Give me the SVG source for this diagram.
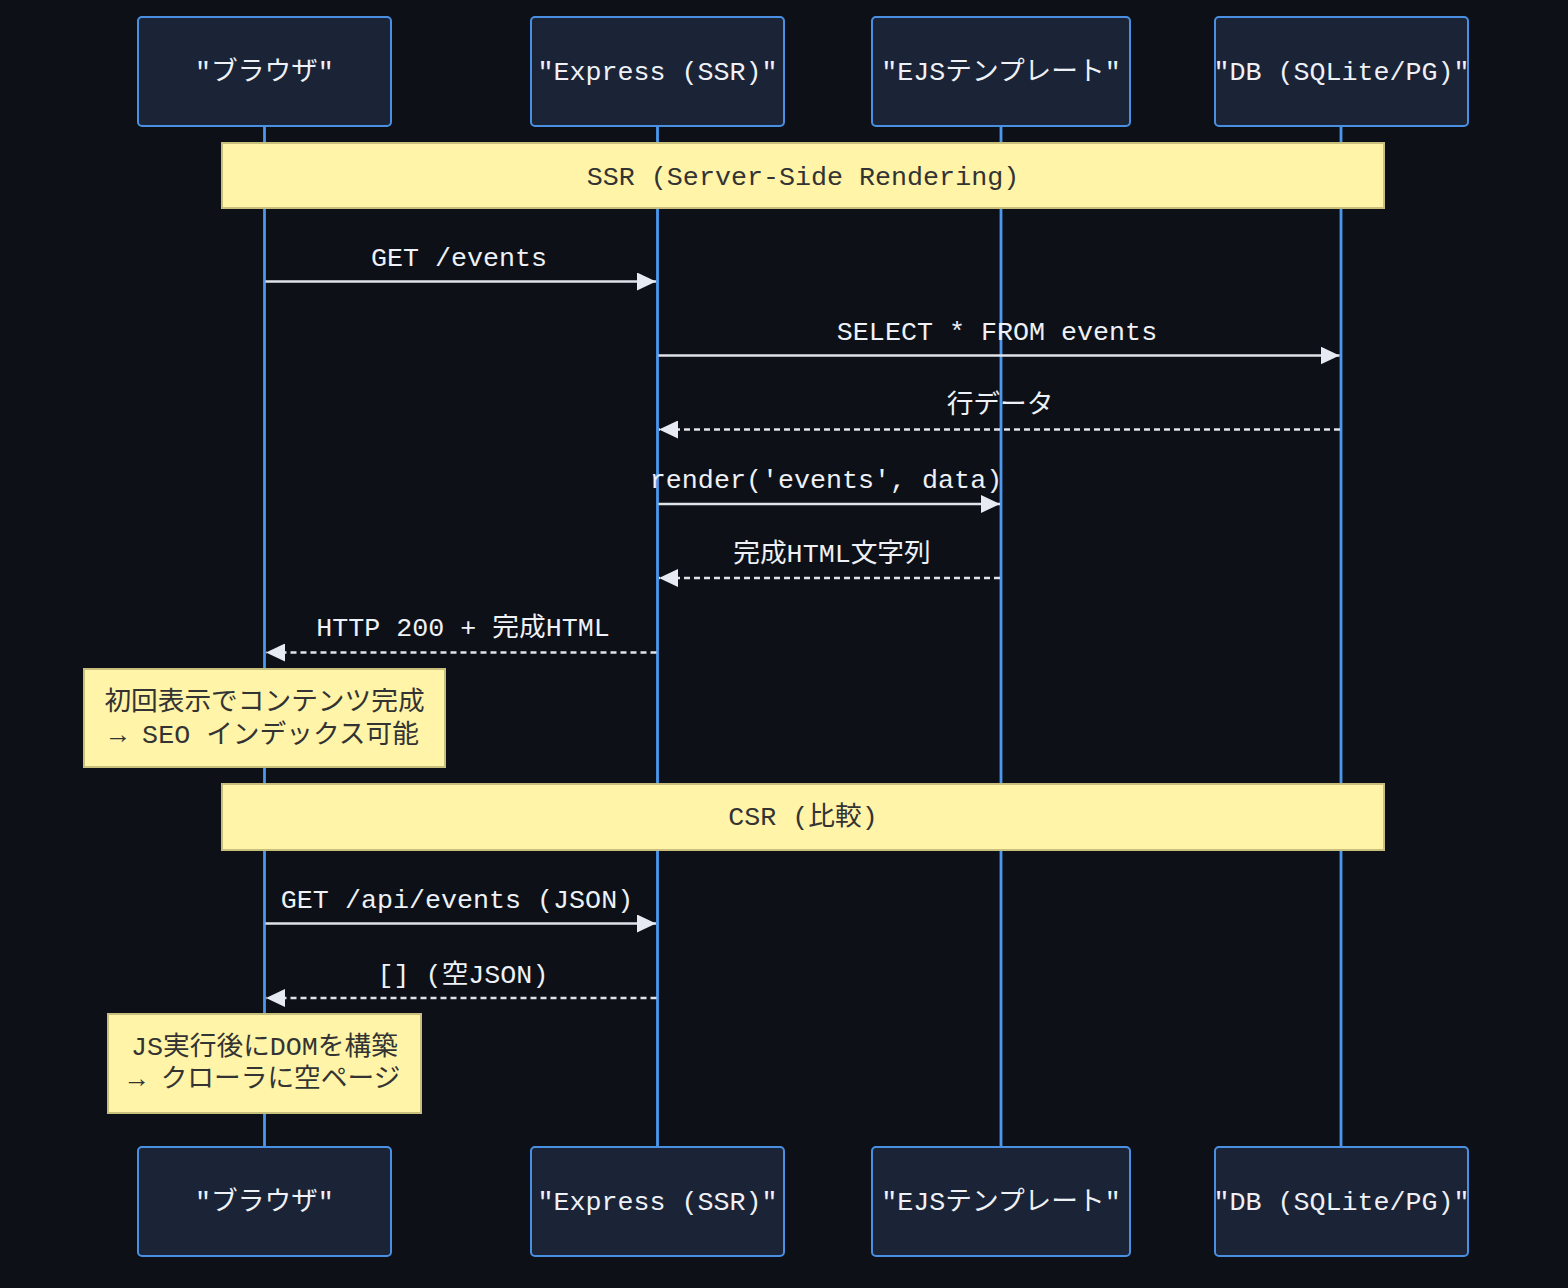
<svg xmlns="http://www.w3.org/2000/svg" width="1568" height="1288" viewBox="0 0 1568 1288">
  <style>
    .bg { fill: #0d1017; }
    .actor rect { fill: #1b2336; stroke: #4a90e2; stroke-width: 2; }
    .actor text { font-family: "Liberation Mono", "Noto Sans CJK JP", monospace; font-size: 26.7px; fill: #eef1f6; text-anchor: middle; }
    .life { stroke: #4b98ee; stroke-width: 2.8; }
    .note rect { fill: #fff4a8; stroke: #c9bf7c; stroke-width: 2; }
    .note text { font-family: "Liberation Mono", "Noto Sans CJK JP", monospace; font-size: 26.7px; fill: #333333; text-anchor: middle; }
    .msg { stroke: #dfe3ea; stroke-width: 2.5; fill: none; marker-end: url(#arrow); }
    .dash { stroke-dasharray: 6 4; }
    .lbl { font-family: "Liberation Mono", "Noto Sans CJK JP", monospace; font-size: 26.7px; fill: #eef1f6; text-anchor: middle; }
  </style>
  <defs>
    <marker id="arrow" markerUnits="userSpaceOnUse" markerWidth="19" markerHeight="18" viewBox="0 0 19 18" refX="19" refY="9" orient="auto">
      <path d="M0,0 L19,9 L0,18 Z" fill="#e6eaf2"/>
    </marker>
  </defs>
  <rect class="bg" x="0" y="0" width="1568" height="1288"/>

  <g id="lifelines">
    <line class="life" x1="264.5" y1="126" x2="264.5" y2="1147"/>
    <line class="life" x1="657.5" y1="126" x2="657.5" y2="1147"/>
    <line class="life" x1="1001" y1="126" x2="1001" y2="1147"/>
    <line class="life" x1="1341" y1="126" x2="1341" y2="1147"/>
  </g>

  <g id="note-ssr" class="note">
    <rect x="222" y="143" width="1162" height="65"/>
    <text x="803" y="185">SSR (Server-Side Rendering)</text>
  </g>
  <g id="note-seo" class="note">
    <rect x="84" y="669" width="361" height="98"/>
    <text x="264.5" y="710">初回表示でコンテンツ完成</text>
    <text x="264.5" y="743">→ SEO インデックス可能</text>
  </g>
  <g id="note-csr" class="note">
    <rect x="222" y="784" width="1162" height="66"/>
    <text x="803" y="825">CSR (比較)</text>
  </g>
  <g id="note-dom" class="note">
    <rect x="108" y="1014" width="313" height="99"/>
    <text x="264.5" y="1055">JS実行後にDOMを構築</text>
    <text x="264.5" y="1087">→ クローラに空ページ</text>
  </g>

  <g id="connectors">
    <line class="msg" x1="265.5" y1="281.5" x2="656" y2="281.5"/>
    <text class="lbl" x="459" y="266">GET /events</text>

    <line class="msg" x1="658.5" y1="355.5" x2="1339.5" y2="355.5"/>
    <text class="lbl" x="997" y="340">SELECT * FROM events</text>

    <line class="msg dash" x1="1340" y1="429.5" x2="659" y2="429.5"/>
    <text class="lbl" x="1000" y="413">行データ</text>

    <line class="msg" x1="658.5" y1="504" x2="1000" y2="504"/>
    <text class="lbl" x="826" y="488">render('events', data)</text>

    <line class="msg dash" x1="1000" y1="578" x2="659" y2="578"/>
    <text class="lbl" x="832" y="562">完成HTML文字列</text>

    <line class="msg dash" x1="656.5" y1="652.5" x2="266" y2="652.5"/>
    <text class="lbl" x="463" y="636">HTTP 200 + 完成HTML</text>

    <line class="msg" x1="265.5" y1="923.5" x2="656" y2="923.5"/>
    <text class="lbl" x="457" y="908">GET /api/events (JSON)</text>

    <line class="msg dash" x1="656.5" y1="998" x2="266" y2="998"/>
    <text class="lbl" x="463" y="983">[] (空JSON)</text>
  </g>

  <g id="actor-browser-top" class="actor">
    <rect x="138" y="17" width="253" height="109" rx="4"/>
    <text x="264.5" y="80">"ブラウザ"</text>
  </g>
  <g id="actor-express-top" class="actor">
    <rect x="531" y="17" width="253" height="109" rx="4"/>
    <text x="657.5" y="80">"Express (SSR)"</text>
  </g>
  <g id="actor-ejs-top" class="actor">
    <rect x="872" y="17" width="258" height="109" rx="4"/>
    <text x="1001" y="80">"EJSテンプレート"</text>
  </g>
  <g id="actor-db-top" class="actor">
    <rect x="1215" y="17" width="253" height="109" rx="4"/>
    <text x="1341.5" y="80">"DB (SQLite/PG)"</text>
  </g>

  <g id="actor-browser-bottom" class="actor">
    <rect x="138" y="1147" width="253" height="109" rx="4"/>
    <text x="264.5" y="1210">"ブラウザ"</text>
  </g>
  <g id="actor-express-bottom" class="actor">
    <rect x="531" y="1147" width="253" height="109" rx="4"/>
    <text x="657.5" y="1210">"Express (SSR)"</text>
  </g>
  <g id="actor-ejs-bottom" class="actor">
    <rect x="872" y="1147" width="258" height="109" rx="4"/>
    <text x="1001" y="1210">"EJSテンプレート"</text>
  </g>
  <g id="actor-db-bottom" class="actor">
    <rect x="1215" y="1147" width="253" height="109" rx="4"/>
    <text x="1341.5" y="1210">"DB (SQLite/PG)"</text>
  </g>
</svg>
